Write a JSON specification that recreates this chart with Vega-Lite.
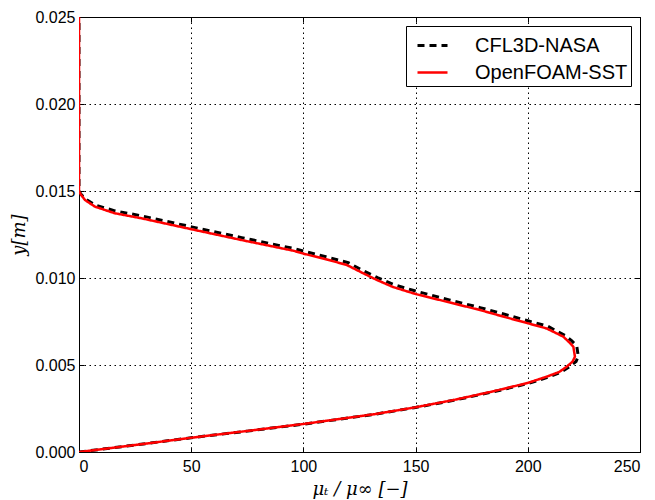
{
  "$schema": "https://vega.github.io/schema/vega-lite/v6.json",
  "width": 561,
  "height": 435,
  "autosize": {"type": "none"},
  "padding": {"left": 79, "top": 17, "right": 15, "bottom": 48},
  "background": "white",
  "config": {
    "view": {"stroke": "black", "strokeWidth": 1},
    "font": "Liberation Sans",
    "axis": {
      "domain": false,
      "grid": true,
      "gridColor": "black",
      "gridOpacity": 1,
      "gridWidth": 1,
      "gridDash": [1.5, 3.5],
      "tickColor": "black",
      "tickSize": -5,
      "tickWidth": 1,
      "labelColor": "black",
      "labelFont": "Liberation Sans",
      "labelFontSize": 16,
      "titleColor": "black",
      "titleFont": "DejaVu Serif",
      "titleFontStyle": "italic",
      "titleFontWeight": "normal",
      "titleFontSize": 18
    },
    "legend": {
      "title": null,
      "strokeColor": "black",
      "fillColor": "white",
      "padding": 3,
      "cornerRadius": 0,
      "symbolType": "stroke",
      "symbolSize": 900,
      "symbolOffset": 7,
      "symbolStrokeWidth": 2.5,
      "labelFont": "Liberation Sans",
      "labelFontSize": 20,
      "labelColor": "black",
      "labelOffset": 26,
      "rowPadding": -1
    }
  },
  "datasets": {
    "profiles": [
      {"series": "CFL3D-NASA", "i": 0, "mu": 0, "y": 0},
      {"series": "CFL3D-NASA", "i": 1, "mu": 25, "y": 0.0004},
      {"series": "CFL3D-NASA", "i": 2, "mu": 50, "y": 0.00082},
      {"series": "CFL3D-NASA", "i": 3, "mu": 75, "y": 0.0012},
      {"series": "CFL3D-NASA", "i": 4, "mu": 100, "y": 0.0016},
      {"series": "CFL3D-NASA", "i": 5, "mu": 132, "y": 0.00217},
      {"series": "CFL3D-NASA", "i": 6, "mu": 150, "y": 0.00256},
      {"series": "CFL3D-NASA", "i": 7, "mu": 167, "y": 0.00297},
      {"series": "CFL3D-NASA", "i": 8, "mu": 185, "y": 0.00347},
      {"series": "CFL3D-NASA", "i": 9, "mu": 200, "y": 0.00393},
      {"series": "CFL3D-NASA", "i": 10, "mu": 209, "y": 0.0043},
      {"series": "CFL3D-NASA", "i": 11, "mu": 215, "y": 0.0046},
      {"series": "CFL3D-NASA", "i": 12, "mu": 218.5, "y": 0.0049},
      {"series": "CFL3D-NASA", "i": 13, "mu": 221.5, "y": 0.0052},
      {"series": "CFL3D-NASA", "i": 14, "mu": 222.5, "y": 0.0055},
      {"series": "CFL3D-NASA", "i": 15, "mu": 221.8, "y": 0.0061},
      {"series": "CFL3D-NASA", "i": 16, "mu": 219.5, "y": 0.0064},
      {"series": "CFL3D-NASA", "i": 17, "mu": 216.5, "y": 0.0067},
      {"series": "CFL3D-NASA", "i": 18, "mu": 209, "y": 0.00722},
      {"series": "CFL3D-NASA", "i": 19, "mu": 200, "y": 0.00754},
      {"series": "CFL3D-NASA", "i": 20, "mu": 190, "y": 0.0079},
      {"series": "CFL3D-NASA", "i": 21, "mu": 178.7, "y": 0.0083},
      {"series": "CFL3D-NASA", "i": 22, "mu": 165, "y": 0.00874},
      {"series": "CFL3D-NASA", "i": 23, "mu": 150, "y": 0.00925},
      {"series": "CFL3D-NASA", "i": 24, "mu": 140, "y": 0.00963},
      {"series": "CFL3D-NASA", "i": 25, "mu": 133, "y": 0.01002},
      {"series": "CFL3D-NASA", "i": 26, "mu": 127, "y": 0.0104},
      {"series": "CFL3D-NASA", "i": 27, "mu": 120, "y": 0.01088},
      {"series": "CFL3D-NASA", "i": 28, "mu": 110, "y": 0.01122},
      {"series": "CFL3D-NASA", "i": 29, "mu": 100, "y": 0.01155},
      {"series": "CFL3D-NASA", "i": 30, "mu": 95.5, "y": 0.0117},
      {"series": "CFL3D-NASA", "i": 31, "mu": 72.5, "y": 0.01232},
      {"series": "CFL3D-NASA", "i": 32, "mu": 50.2, "y": 0.01294},
      {"series": "CFL3D-NASA", "i": 33, "mu": 27.9, "y": 0.01357},
      {"series": "CFL3D-NASA", "i": 34, "mu": 16, "y": 0.01386},
      {"series": "CFL3D-NASA", "i": 35, "mu": 7.1, "y": 0.0142},
      {"series": "CFL3D-NASA", "i": 36, "mu": 2.7, "y": 0.01455},
      {"series": "CFL3D-NASA", "i": 37, "mu": 0.8, "y": 0.01483},
      {"series": "CFL3D-NASA", "i": 38, "mu": 0, "y": 0.015},
      {"series": "CFL3D-NASA", "i": 39, "mu": 0, "y": 0.025},
      {"series": "OpenFOAM-SST", "i": 0, "mu": 0, "y": 0},
      {"series": "OpenFOAM-SST", "i": 1, "mu": 25, "y": 0.0004},
      {"series": "OpenFOAM-SST", "i": 2, "mu": 50, "y": 0.00082},
      {"series": "OpenFOAM-SST", "i": 3, "mu": 75, "y": 0.00121},
      {"series": "OpenFOAM-SST", "i": 4, "mu": 100, "y": 0.00161},
      {"series": "OpenFOAM-SST", "i": 5, "mu": 132, "y": 0.00218},
      {"series": "OpenFOAM-SST", "i": 6, "mu": 150, "y": 0.00257},
      {"series": "OpenFOAM-SST", "i": 7, "mu": 167, "y": 0.00299},
      {"series": "OpenFOAM-SST", "i": 8, "mu": 185, "y": 0.0035},
      {"series": "OpenFOAM-SST", "i": 9, "mu": 200, "y": 0.00397},
      {"series": "OpenFOAM-SST", "i": 10, "mu": 208.4, "y": 0.00433},
      {"series": "OpenFOAM-SST", "i": 11, "mu": 214, "y": 0.0046},
      {"series": "OpenFOAM-SST", "i": 12, "mu": 217.3, "y": 0.0049},
      {"series": "OpenFOAM-SST", "i": 13, "mu": 220, "y": 0.0052},
      {"series": "OpenFOAM-SST", "i": 14, "mu": 221, "y": 0.00548},
      {"series": "OpenFOAM-SST", "i": 15, "mu": 220.3, "y": 0.00605},
      {"series": "OpenFOAM-SST", "i": 16, "mu": 218.5, "y": 0.0063},
      {"series": "OpenFOAM-SST", "i": 17, "mu": 215.8, "y": 0.00663},
      {"series": "OpenFOAM-SST", "i": 18, "mu": 208.4, "y": 0.0071},
      {"series": "OpenFOAM-SST", "i": 19, "mu": 200, "y": 0.0074},
      {"series": "OpenFOAM-SST", "i": 20, "mu": 190, "y": 0.00775},
      {"series": "OpenFOAM-SST", "i": 21, "mu": 178.7, "y": 0.00816},
      {"series": "OpenFOAM-SST", "i": 22, "mu": 165, "y": 0.0086},
      {"series": "OpenFOAM-SST", "i": 23, "mu": 150, "y": 0.00908},
      {"series": "OpenFOAM-SST", "i": 24, "mu": 140, "y": 0.00948},
      {"series": "OpenFOAM-SST", "i": 25, "mu": 132.7, "y": 0.00989},
      {"series": "OpenFOAM-SST", "i": 26, "mu": 126.7, "y": 0.01027},
      {"series": "OpenFOAM-SST", "i": 27, "mu": 119.3, "y": 0.01075},
      {"series": "OpenFOAM-SST", "i": 28, "mu": 110, "y": 0.01108},
      {"series": "OpenFOAM-SST", "i": 29, "mu": 100, "y": 0.0114},
      {"series": "OpenFOAM-SST", "i": 30, "mu": 95.5, "y": 0.01157},
      {"series": "OpenFOAM-SST", "i": 31, "mu": 72.5, "y": 0.01218},
      {"series": "OpenFOAM-SST", "i": 32, "mu": 50.2, "y": 0.0128},
      {"series": "OpenFOAM-SST", "i": 33, "mu": 27.9, "y": 0.01343},
      {"series": "OpenFOAM-SST", "i": 34, "mu": 16, "y": 0.01372},
      {"series": "OpenFOAM-SST", "i": 35, "mu": 7.1, "y": 0.0141},
      {"series": "OpenFOAM-SST", "i": 36, "mu": 2.7, "y": 0.01448},
      {"series": "OpenFOAM-SST", "i": 37, "mu": 0.8, "y": 0.0148},
      {"series": "OpenFOAM-SST", "i": 38, "mu": 0, "y": 0.015},
      {"series": "OpenFOAM-SST", "i": 39, "mu": 0, "y": 0.025}
    ]
  },
  "data": {"name": "profiles"},
  "layer": [
    {
      "mark": {"type": "line", "clip": true},
      "encoding": {
        "x": {
          "field": "mu", "type": "quantitative",
          "scale": {"domain": [0, 250], "nice": false, "zero": false},
          "axis": {"values": [0, 50, 100, 150, 200, 250], "labelPadding": 11, "title": "μₜ / μ∞ [−]", "titlePadding": 6}
        },
        "y": {
          "field": "y", "type": "quantitative",
          "scale": {"domain": [0, 0.025], "nice": false, "zero": false},
          "axis": {"values": [0, 0.005, 0.01, 0.015, 0.02, 0.025], "format": ".3f", "labelPadding": 9, "title": "y[m]", "titlePadding": 6}
        },
        "order": {"field": "i", "type": "quantitative"},
        "color": {
          "field": "series", "type": "nominal",
          "scale": {"domain": ["CFL3D-NASA", "OpenFOAM-SST"], "range": ["black", "#ff0000"]},
          "legend": {"orient": "none", "legendX": 327, "legendY": 9}
        },
        "strokeDash": {
          "field": "series", "type": "nominal",
          "scale": {"domain": ["CFL3D-NASA", "OpenFOAM-SST"], "range": [[7, 5], [1, 0]]},
          "legend": {"orient": "none", "legendX": 327, "legendY": 9}
        },
        "strokeWidth": {
          "field": "series", "type": "nominal",
          "scale": {"domain": ["CFL3D-NASA", "OpenFOAM-SST"], "range": [3, 2.5]},
          "legend": null
        }
      }
    },
    {
      "mark": {"type": "line", "opacity": 0},
      "encoding": {
        "x": {
          "field": "mu", "type": "quantitative",
          "axis": {"orient": "top", "values": [0, 50, 100, 150, 200, 250], "labels": false, "grid": false, "title": null}
        },
        "y": {
          "field": "y", "type": "quantitative",
          "axis": {"orient": "right", "values": [0, 0.005, 0.01, 0.015, 0.02, 0.025], "labels": false, "grid": false, "title": null}
        },
        "order": {"field": "i", "type": "quantitative"}
      }
    }
  ],
  "resolve": {"axis": {"x": "independent", "y": "independent"}}
}
